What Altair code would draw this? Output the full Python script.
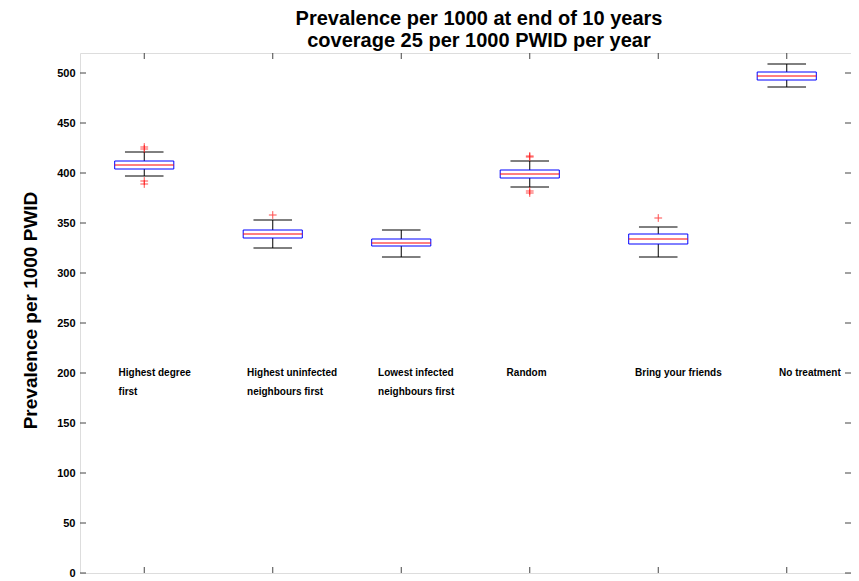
import altair as alt
import pandas as pd

# ---- data ----
positions = [1, 2, 3, 4, 5, 6]
label_line1 = ["Highest degree", "Highest uninfected", "Lowest infected", "Random", "Bring your friends", "No treatment"]
label_line2 = ["first", "neighbours first", "neighbours first", "", "", ""]
label_x = [0.80, 1.80, 2.82, 3.82, 4.82, 5.94]
label_y = [200, 181]

medians = [408, 339, 330, 399, 334, 497]
q1s = [404, 335, 327, 395, 329, 493]
q3s = [412, 343, 334, 403, 339, 501]
whisk_lo = [397, 325, 316, 386, 316, 486]
whisk_hi = [421, 353, 343, 412, 346, 509]

outlier_pos = [1, 1, 1, 1, 2, 4, 4, 4, 4, 5]
outlier_val = [424, 426, 392, 389, 358, 416, 417, 382, 380, 355]

y_ticks = list(range(0, 501, 50))

title_lines = ["Prevalence per 1000 at end of 10 years", "coverage 25 per 1000 PWID per year"]
y_title = "Prevalence per 1000 PWID"

W, H = 771, 520
FONT = "Liberation Sans"
BOXW = 0.23
CAPW = 0.15

boxes = pd.DataFrame({
    "pos": positions, "med": medians, "q1": q1s, "q3": q3s,
    "lo": whisk_lo, "hi": whisk_hi,
})
outs = pd.DataFrame({"pos": outlier_pos, "val": outlier_val})
labels = pd.DataFrame({
    "lx": label_x * 2,
    "ly": [label_y[0]] * 6 + [label_y[1]] * 6,
    "txt": label_line1 + label_line2,
})
ticks_df = pd.DataFrame({"v": y_ticks})
xticks_df = pd.DataFrame({"p": positions})

xs = alt.Scale(domain=[0.5, 6.5], nice=False, zero=False)
ys = alt.Scale(domain=[0, 520], nice=False, zero=True)

base = alt.Chart(boxes).transform_calculate(
    bl=f"datum.pos - {BOXW}", br=f"datum.pos + {BOXW}",
    cl=f"datum.pos - {CAPW}", cr=f"datum.pos + {CAPW}",
)

yax = alt.Axis(values=y_ticks, tickSize=0, labelPadding=5, domain=False, grid=False,
               labelFont=FONT, labelFontSize=11, labelFontWeight="bold", labelColor="black",
               title=y_title, titleFont=FONT, titleFontSize=19, titleFontWeight="bold",
               titleColor="black", titleX=-50, titleY=257, titleAngle=270,
               titleAlign="center", titleBaseline="middle")
xax = alt.Axis(labels=False, ticks=False, domain=False, grid=False, title=None)

whisk_low = base.mark_rule(color="black", strokeWidth=1).encode(
    x=alt.X("pos:Q", scale=xs, axis=xax),
    y=alt.Y("lo:Q", scale=ys, axis=yax),
    y2="q1:Q",
)
whisk_high = base.mark_rule(color="black", strokeWidth=1).encode(
    x=alt.X("pos:Q", scale=xs), y=alt.Y("q3:Q", scale=ys), y2="hi:Q"
)
cap_lo = base.mark_rule(color="black", strokeWidth=1).encode(
    x=alt.X("cl:Q", scale=xs), x2="cr:Q", y=alt.Y("lo:Q", scale=ys)
)
cap_hi = base.mark_rule(color="black", strokeWidth=1).encode(
    x=alt.X("cl:Q", scale=xs), x2="cr:Q", y=alt.Y("hi:Q", scale=ys)
)
box = base.mark_rect(fill="white", stroke="#0000ff", strokeWidth=1).encode(
    x=alt.X("bl:Q", scale=xs), x2="br:Q", y=alt.Y("q1:Q", scale=ys), y2="q3:Q"
)
med = base.mark_rule(color="#ff0000", strokeWidth=1).encode(
    x=alt.X("bl:Q", scale=xs), x2="br:Q", y=alt.Y("med:Q", scale=ys)
)
outliers = alt.Chart(outs).mark_point(
    shape="M-1,0L1,0M0,-1L0,1", size=60, stroke="#ff0000", strokeWidth=1, filled=False
).encode(x=alt.X("pos:Q", scale=xs), y=alt.Y("val:Q", scale=ys))

cat_text = alt.Chart(labels).mark_text(
    align="left", baseline="middle", font=FONT, fontSize=10, fontWeight="bold", color="black"
).encode(x=alt.X("lx:Q", scale=xs), y=alt.Y("ly:Q", scale=ys), text="txt:N")

# inward ticks (left/right on y, bottom/top on x)
ytick_l = alt.Chart(ticks_df).mark_rule(color="#444", strokeWidth=1).encode(
    y=alt.Y("v:Q", scale=ys), x=alt.value(0), x2=alt.value(6))
ytick_r = alt.Chart(ticks_df).mark_rule(color="#444", strokeWidth=1).encode(
    y=alt.Y("v:Q", scale=ys), x=alt.value(W - 6), x2=alt.value(W))
xtick_b = alt.Chart(xticks_df).mark_rule(color="#444", strokeWidth=1).encode(
    x=alt.X("p:Q", scale=xs), y=alt.value(H), y2=alt.value(H - 6))
xtick_t = alt.Chart(xticks_df).mark_rule(color="#444", strokeWidth=1).encode(
    x=alt.X("p:Q", scale=xs), y=alt.value(0), y2=alt.value(6))

title_df = pd.DataFrame({"t": title_lines, "ty": [-34, -12]})
title_text = alt.Chart(title_df).mark_text(
    align="center", baseline="middle", font=FONT, fontSize=20, fontWeight="bold", color="black"
).encode(text="t:N", x=alt.value(399), y=alt.Y("ty:Q", scale=None))

chart = alt.layer(
    whisk_low, whisk_high, cap_lo, cap_hi, box, med, outliers, cat_text,
    ytick_l, ytick_r, xtick_b, xtick_t, title_text,
).properties(
    width=W, height=H,
    autosize=alt.AutoSizeParams(type="none"),
    padding={"left": 72, "top": 45, "right": 0, "bottom": 8},
).configure_view(stroke="#444", strokeWidth=1).configure(background="white")

chart.save("out.html", embed_options={"renderer": "svg", "actions": False})
